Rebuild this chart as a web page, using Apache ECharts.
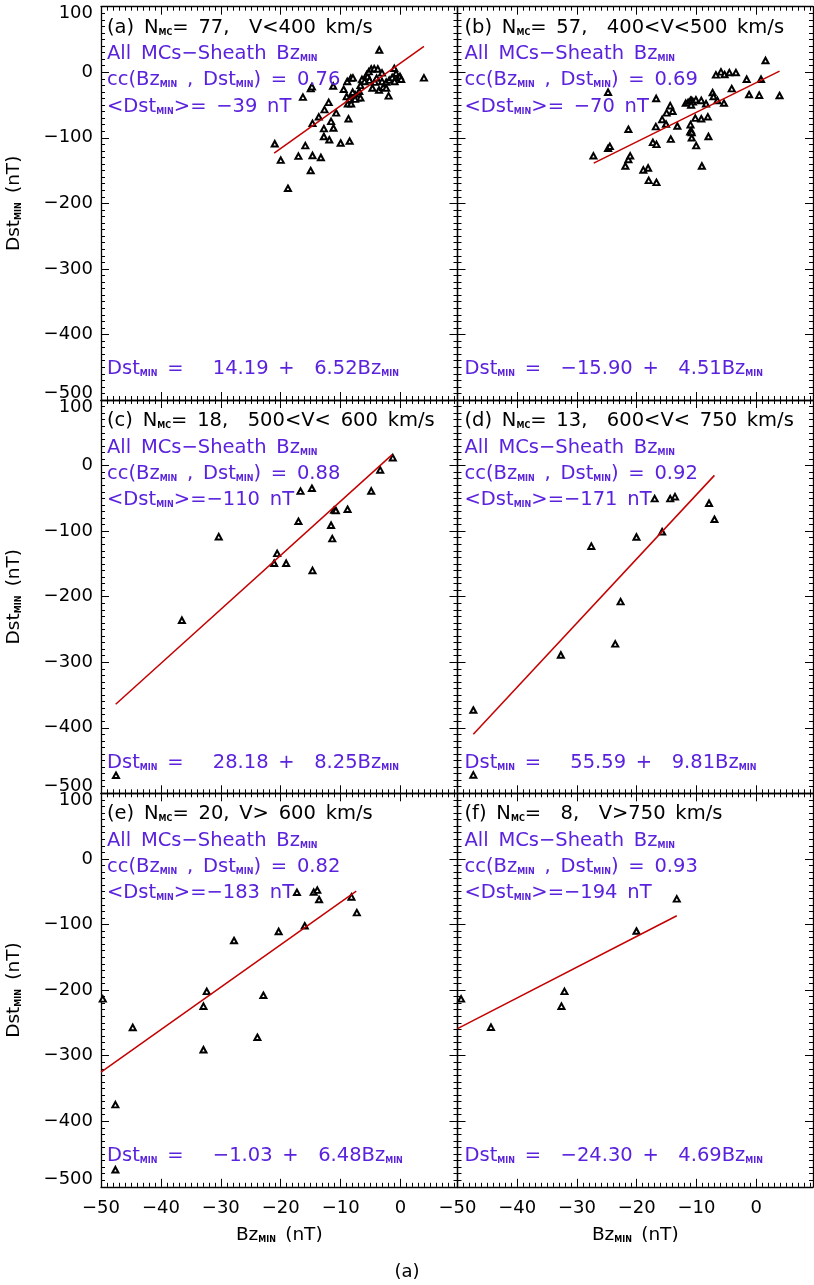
<!DOCTYPE html>
<html>
<head>
<meta charset="utf-8">
<script src="https://cdn.jsdelivr.net/npm/echarts@6/dist/echarts.min.js"></script>
<style>
html, body { margin: 0; padding: 0; background: #fff; }
#main { width: 814px; height: 1285px; }
</style>
</head>
<body>
<div id="main"></div>
<script>
// Bz_MIN (nT), Dst_MIN (nT)
var ptsA = [[-21.0,-109],[-20.0,-134],[-18.8,-177],[-17.05,-128],[-15.9,-112],[-16.3,-38],[-15.0,-150],[-14.7,-127],[-13.3,-130],[-15.0,-25],[-14.8,-22],[-14.7,-78],[-13.65,-68],[-12.7,-57],[-12.0,-46],[-12.8,-86],[-12.8,-98],[-11.9,-103],[-11.2,-85],[-10.75,-62],[-11.6,-75],[-11.25,-21],[-10.0,-108],[-8.5,-105],[-8.7,-71],[-9.5,-26],[-8.9,-14],[-8.3,-9],[-7.95,-8.6],[-9.0,-37],[-8.8,-48],[-8.5,-41],[-8.25,-48],[-7.9,-36],[-7.6,-34],[-7.2,-39],[-6.7,-39],[-7.6,-41],[-6.7,-20],[-6.45,-11],[-6.0,-14],[-5.65,-3.5],[-5.5,-6.5],[-5.3,1],[-4.9,5],[-4.4,5.6],[-3.8,5],[-3.55,34],[-3.1,-1],[-3.1,-14],[-4.3,-15],[-4.7,-24],[-3.6,-27],[-2.9,-23],[-2.4,-24],[-2.4,-15],[-2.0,-36],[-1.9,-12],[-1.4,-8],[-1.05,6],[-0.75,-1.5],[-0.5,-8.6],[-0.1,-6.5],[0.1,-10.7],[3.9,-8.6],[-6.9,-29],[-8.0,-30.5],[-5.2,-12],[-4.0,-9],[-1.0,-14]];
var ptsB = [[-27.25,-127.5],[-24.8,-116],[-24.5,-113],[-21.4,-87],[-21.4,-133],[-21.1,-127.5],[-21.9,-143],[-24.8,-30.5],[-18.9,-149],[-18.1,-146],[-18.0,-165],[-16.7,-168],[-17.3,-107],[-16.7,-110],[-16.8,-83],[-16.75,-40],[-15.75,-72],[-15.1,-79],[-15.0,-62],[-14.4,-51],[-14.0,-59.5],[-14.3,-102],[-13.2,-82],[-11.8,-47],[-11.4,-46],[-11.0,-43],[-10.8,-43],[-10.6,-45],[-10.1,-42],[-10.9,-50],[-11.0,-80],[-10.9,-89],[-11.05,-91],[-10.8,-92],[-10.8,-100],[-10.05,-112],[-9.1,-143],[-10.2,-70],[-9.2,-71],[-8.1,-68],[-8.0,-98],[-9.2,-43],[-8.4,-48],[-7.3,-31],[-6.5,-43],[-5.4,-47],[-4.1,-25],[-6.75,-4],[-5.9,0.6],[-5.3,-3.5],[-4.5,-0.5],[-3.4,-0.5],[-1.6,-10.7],[-1.2,-34],[0.5,-35],[0.8,-10.7],[1.55,18],[3.9,-35.5],[-7.15,-37]];
var ptsC = [[-1.3,12],[-3.4,-6.7],[-4.9,-38.8],[-8.85,-66.7],[-11.1,-68],[-10.8,-68.5],[-11.6,-91],[-11.4,-111.5],[-14.8,-34.7],[-16.7,-39],[-17.05,-85],[-14.7,-160],[-20.6,-134],[-21.1,-149],[-19.1,-149],[-30.35,-108.5],[-36.5,-236],[-47.5,-472.5]];
var ptsD = [[-47.35,-373],[-47.35,-472],[-32.7,-289],[-23.6,-272],[-22.7,-207.6],[-27.6,-123],[-20.05,-109],[-15.75,-101],[-17.0,-50.5],[-14.4,-50.5],[-13.6,-47.5],[-7.9,-57.5],[-7.0,-82]];
var ptsE = [[-49.7,-213.4],[-44.7,-257],[-47.6,-374.7],[-47.6,-474],[-32.9,-291],[-32.9,-224.6],[-32.35,-202],[-23.9,-272],[-22.9,-208],[-27.8,-124.5],[-20.35,-110.7],[-16.0,-102],[-17.3,-51],[-14.5,-50.7],[-13.9,-47.6],[-13.6,-62],[-8.2,-58],[-7.3,-82]];
var ptsF = [[-49.4,-213.4],[-44.4,-256.6],[-32.6,-224.6],[-32.1,-202],[-20.05,-110],[-13.3,-61]];

// end points of the red fit lines
var fitA = [[-21.1,-123.4],[3.9,39.6]];
var fitB = [[-27.2,-138.6],[3.9,1.7]];
var fitC = [[-47.55,-364.1],[-1.4,16.6]];
var fitD = [[-47.35,-410],[-7.0,-15]];
var fitE = [[-50,-325],[-7.4,-49]];
var fitF = [[-50,-258.8],[-13.3,-86.7]];

// panel texts
var panelTag = ['(a)', '(b)', '(c)', '(d)', '(e)', '(f)'];
var nMC = [' 77', ' 57', ' 18', ' 13', ' 20', '  8'];
var speedTxt = ['  V<400 km/s', '  400<V<500 km/s', '  500<V< 600 km/s', '  600<V< 750 km/s', ' V> 600 km/s', '  V>750 km/s'];
var ccTxt = ['0.76', '0.69', '0.88', '0.92', '0.82', '0.93'];
var meanDst = [' -39', ' -70', '-110', '-171', '-183', '-194'];
var fitIcpt = ['   14.19', '  -15.90', '   28.18', '   55.59', '   -1.03', '  -24.30'];
var fitSlope = ['  6.52', '  4.51', '  8.25', '  9.81', '  6.48', '  4.69'];

var xTickVals = [-50, -40, -30, -20, -10, 0];
var yTickVals = [100, 0, -100, -200, -300, -400, -500];

var allPts = [ptsA, ptsB, ptsC, ptsD, ptsE, ptsF];
var allFit = [fitA, fitB, fitC, fitD, fitE, fitF];

var myChart = echarts.init(document.getElementById('main'));

var FONT = 'DejaVu Sans';
var PURPLE = '#5a22dc';
var cols = [{ left: 101, width: 356.5 }, { left: 457.5, width: 355.5 }];
var rows = [{ top: 6.7, height: 393.3 }, { top: 400, height: 393.3 }, { top: 793.3, height: 393.5 }];

// IDL style text: wider spaces, long minus, {s|..} subscripts
function idl(str) {
    return str.replace(/-/g, '\u2212').replace(/ /g, '\u2002');
}
function subStyle(color) {
    return { fontFamily: FONT, fontSize: 8, fontWeight: 'bold', color: color, verticalAlign: 'bottom', lineHeight: 9, padding: [0, 0, 2, 0] };
}
function txt(x, y, str, color) {
    return {
        left: x, top: y, padding: 0,
        text: str,
        textStyle: {
            fontFamily: FONT, fontSize: 19.5, fontWeight: 'normal', color: color, lineHeight: 22,
            rich: { s: subStyle(color) }
        }
    };
}

var grids = [], xAxes = [], yAxes = [], series = [], titles = [];

function xAx(gi, pos, lab, named) {
    return {
        type: 'value', gridIndex: gi, position: pos, min: -50, max: 9.5, interval: 10,
        axisLine: { show: true, onZero: false, lineStyle: { color: '#000', width: 1.3 } },
        axisTick: { show: true, inside: true, length: 8, lineStyle: { color: '#000', width: 1 } },
        minorTick: { show: true, splitNumber: 10, length: 4, lineStyle: { color: '#000', width: 1 } },
        splitLine: { show: false },
        axisLabel: {
            show: lab, fontFamily: FONT, fontSize: 18, color: '#000', margin: 13,
            formatter: function (v) { return xTickVals.indexOf(v) >= 0 ? String(v).replace('-', '\u2212') : ''; }
        },
        name: named ? 'Bz{s|MIN}\u2002(nT)' : '',
        nameLocation: 'middle', nameGap: 37,
        nameTextStyle: { fontFamily: FONT, fontSize: 18.5, color: '#000', lineHeight: 22, rich: { s: subStyle('#000') } }
    };
}
function yAx(gi, pos, lab, named) {
    return {
        type: 'value', gridIndex: gi, position: pos, min: -500, max: 100, interval: 100,
        axisLine: { show: true, onZero: false, lineStyle: { color: '#000', width: 1.3 } },
        axisTick: { show: true, inside: true, length: 8, lineStyle: { color: '#000', width: 1 } },
        minorTick: { show: true, splitNumber: 10, length: 4, lineStyle: { color: '#000', width: 1 } },
        splitLine: { show: false },
        axisLabel: {
            show: lab, fontFamily: FONT, fontSize: 18, color: '#000', margin: 8,
            formatter: function (v) {
                var s = String(v).replace('-', '\u2212');
                if (v === yTickVals[0]) return '{lo|' + s + '}';
                if (v === yTickVals[yTickVals.length - 1]) return '{hi|' + s + '}';
                return s;
            },
            rich: {
                lo: { fontFamily: FONT, fontSize: 18, color: '#000', padding: [14, 0, 0, 0] },
                hi: { fontFamily: FONT, fontSize: 18, color: '#000', padding: [0, 0, 14, 0] }
            }
        },
        name: named ? 'Dst{s|MIN}\u2002(nT)' : '',
        nameLocation: 'middle', nameGap: 76, nameRotate: 90,
        nameTextStyle: { fontFamily: FONT, fontSize: 18.5, color: '#000', lineHeight: 22, rich: { s: subStyle('#000') } }
    };
}

for (var i = 0; i < 6; i++) {
    var r = Math.floor(i / 2), c = i % 2;
    grids.push({ left: cols[c].left, top: rows[r].top, width: cols[c].width, height: rows[r].height, outerBoundsMode: 'none', containLabel: false });
    xAxes.push(xAx(i, 'bottom', r === 2, r === 2));
    xAxes.push(xAx(i, 'top', false, false));
    yAxes.push(yAx(i, 'left', c === 0, c === 0));
    yAxes.push(yAx(i, 'right', false, false));

    series.push({
        type: 'scatter', xAxisIndex: 2 * i, yAxisIndex: 2 * i, data: allPts[i],
        symbol: 'emptyTriangle', symbolSize: [6, 5.5],
        itemStyle: { color: '#000', borderColor: '#000', borderWidth: 0.7, opacity: 1 },
        silent: true, z: 3
    });
    series.push({
        type: 'line', xAxisIndex: 2 * i, yAxisIndex: 2 * i, data: allFit[i],
        symbol: 'none', lineStyle: { color: '#c40000', width: 1.5 }, silent: true, z: 4
    });

    var tx = cols[c].left + (c === 0 ? 6 : 7);
    var ty = rows[r].top;
    titles.push(txt(tx, ty + 10, idl(panelTag[i] + ' N') + '{s|MC}' + idl('=' + nMC[i] + ',' + speedTxt[i]), '#000'));
    titles.push(txt(tx, ty + 36.6, idl('All MCs-Sheath Bz') + '{s|MIN}', PURPLE));
    titles.push(txt(tx, ty + 62.5, idl('cc(Bz') + '{s|MIN}' + idl(' , Dst') + '{s|MIN}' + idl(') = ' + ccTxt[i]), PURPLE));
    titles.push(txt(tx, ty + 88.8, idl('<Dst') + '{s|MIN}' + idl('>=' + meanDst[i] + ' nT'), PURPLE));
    titles.push(txt(tx, ty + 351.6, idl('Dst') + '{s|MIN}' + idl(' =' + fitIcpt[i] + ' +' + fitSlope[i] + 'Bz') + '{s|MIN}', PURPLE));
}

titles.push({
    left: 'center', top: 1261, padding: 0, text: '(a)',
    textStyle: { fontFamily: FONT, fontSize: 18, fontWeight: 'normal', color: '#000', lineHeight: 22 }
});

option = {
    backgroundColor: '#fff',
    animation: false,
    title: titles,
    grid: grids,
    xAxis: xAxes,
    yAxis: yAxes,
    series: series
};

myChart.setOption(option);
</script>
</body>
</html>
